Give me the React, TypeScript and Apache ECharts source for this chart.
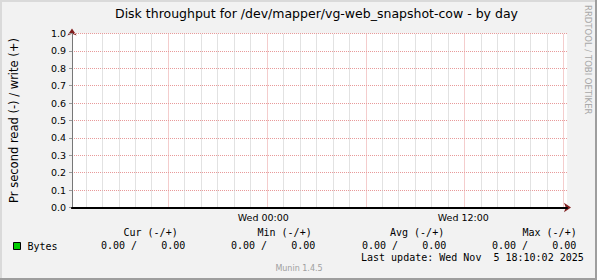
import React, { useEffect, useRef } from 'react';
import * as echarts from 'echarts';

// ---- data ----
const chartTitle = 'Disk throughput for /dev/mapper/vg-web_snapshot-cow - by day';
const yAxisName = 'Pr second read (-) / write (+)';
const sideText = 'RRDTOOL / TOBI OETIKER';
const versionText = 'Munin 1.4.5';
const lastUpdate = 'Last update: Wed Nov  5 18:10:02 2025';

// time in hours relative to Wed 00:00
const xMinHours = -11.84;
const xMaxHours = 18.22;
const gridStartHours = -12; // multiple of the label interval
const majorHours = 6;
const labelStepHours = 12;
const sampleHours = [-11.75, -6, 0, 6, 12, 18.17];
const writeValues = [0, 0, 0, 0, 0, 0];
const readValues = [0, 0, 0, 0, 0, 0];

const labelHours = [0, 12];
const labelTexts = ['Wed 00:00', 'Wed 12:00'];

const yMin = 0;
const yMax = 1.0;
const yStep = 0.1;

const seriesName = 'Bytes';
const statHeaders = ['Cur (-/+)', 'Min (-/+)', 'Avg (-/+)', 'Max (-/+)'];
const statRead = [0, 0, 0, 0];
const statWrite = [0, 0, 0, 0];

// ---- styles ----
const SANS = '"DejaVu Sans", sans-serif';
const MONO = '"DejaVu Sans Mono", monospace';
const minorColor = '#c4c4c4';
const majorColor = '#e89a9a';
const arrowColor = '#801f1f';
const headerX = [123.5, 257.5, 390, 522.5];
const valueX = [101, 231, 362, 492];

export default function App() {
  const ref = useRef<HTMLDivElement>(null);
  useEffect(() => {
    document.body.style.margin = '0';
    const chart = echarts.init(ref.current!, null, { renderer: 'svg' });
    const gridLeft = 66;
    const gridRight = 30;
    const gridTop = 33.5;
    const gridBottom = 72.5;
    const plotWidth = 597 - gridLeft - gridRight;
    const pxPerHour = plotWidth / (xMaxHours - xMinHours);
    const shiftedLeft = gridLeft - (xMinHours - gridStartHours) * pxPerHour;

    // hourly vertical grid lines, every 6th one is a major line
    const hourLines: any[] = [];
    for (let h = Math.ceil(xMinHours); h <= Math.floor(xMaxHours); h++) {
      hourLines.push({
        xAxis: h,
        lineStyle: { color: h % majorHours === 0 ? majorColor : minorColor, type: [1, 1], width: 1 },
      });
    }

    const hiddenX = {
      type: 'value',
      position: 'bottom',
      axisLine: { show: false, onZero: false },
      axisLabel: { show: false },
      axisTick: { show: false },
      splitLine: { show: false },
    };

    const graphics: any[] = [
      { type: 'rect', shape: { x: 0, y: 0, width: 597, height: 2 }, style: { fill: '#dadada' }, silent: true },
      { type: 'rect', shape: { x: 0, y: 0, width: 2, height: 280 }, style: { fill: '#dadada' }, silent: true },
      { type: 'rect', shape: { x: 595, y: 0, width: 2, height: 280 }, style: { fill: '#9e9e9e' }, silent: true },
      { type: 'rect', shape: { x: 0, y: 278, width: 597, height: 2 }, style: { fill: '#9e9e9e' }, silent: true },
      {
        type: 'text', x: 588, y: 5, rotation: -Math.PI / 2,
        style: { text: sideText, font: '8.5px ' + SANS, fill: '#a8a8a8', align: 'left', verticalAlign: 'middle' },
      },
      {
        type: 'text', x: 299, y: 268.5,
        style: { text: versionText, font: '8px ' + SANS, fill: '#a0a0a0', align: 'center', verticalAlign: 'middle' },
      },
      {
        type: 'text', x: 361, y: 257,
        style: { text: lastUpdate, font: '10px ' + MONO, fill: '#000', align: 'left', verticalAlign: 'middle' },
      },
    ];
    statHeaders.forEach((h, i) => {
      graphics.push({
        type: 'text', x: headerX[i], y: 232.5,
        style: { text: h, font: '10px ' + MONO, fill: '#000', align: 'left', verticalAlign: 'middle' },
      });
      graphics.push({
        type: 'text', x: valueX[i], y: 245,
        style: {
          text: statRead[i].toFixed(2) + ' /    ' + statWrite[i].toFixed(2),
          font: '10px ' + MONO, fill: '#000', align: 'left', verticalAlign: 'middle',
        },
      });
    });

    chart.setOption({
      animation: false,
      backgroundColor: '#f2f2f2',
      title: {
        text: chartTitle,
        left: 316.5,
        top: 7,
        textAlign: 'center',
        padding: 0,
        textStyle: { fontFamily: SANS, fontSize: 12.5, fontWeight: 'normal', color: '#000' },
      },
      legend: {
        data: [seriesName],
        left: 13,
        top: 241,
        padding: 0,
        itemWidth: 7,
        itemHeight: 7,
        icon: 'rect',
        selectedMode: false,
        itemStyle: { borderColor: '#000', borderWidth: 1 },
        textStyle: { fontFamily: MONO, fontSize: 10, color: '#000', padding: [0, 0, 0, 2] },
      },
      grid: [
        { left: gridLeft, right: gridRight, top: gridTop, bottom: gridBottom, show: true, backgroundColor: '#ffffff', borderWidth: 0 },
        { left: shiftedLeft, right: gridRight, top: gridTop, bottom: gridBottom, show: true, backgroundColor: 'rgba(0,0,0,0)', borderWidth: 0 },
      ],
      xAxis: [
        // 0: data axis + red arrow (grid 0)
        {
          ...hiddenX,
          gridIndex: 0,
          min: xMinHours,
          max: xMaxHours,
          z: 4,
          axisLine: { show: true, onZero: false, symbol: ['none', 'arrow'], symbolSize: [7, 7], symbolOffset: [0, 4], lineStyle: { color: arrowColor, width: 2 } },
        },
        // 1: time labels (grid 1, aligned on whole hours)
        {
          ...hiddenX,
          gridIndex: 1,
          min: gridStartHours,
          max: xMaxHours,
          interval: labelStepHours,
          axisLabel: {
            show: true,
            margin: 5,
            showMinLabel: false,
            showMaxLabel: false,
            fontFamily: SANS,
            fontSize: 9.5,
            color: '#000',
            formatter: (v: number) => {
              const i = labelHours.indexOf(Math.round(v * 100) / 100);
              return i >= 0 ? labelTexts[i] : '';
            },
          },
        },
        // 2: black zero axis line over the plot (grid 0)
        {
          ...hiddenX,
          gridIndex: 0,
          min: xMinHours,
          max: xMaxHours,
          z: 6,
          axisLine: { show: true, onZero: false, lineStyle: { color: '#000', width: 2 } },
        },
      ],
      yAxis: [
        {
          type: 'value',
          gridIndex: 0,
          min: yMin,
          max: yMax,
          interval: yStep,
          position: 'left',
          z: 4,
          axisLine: { show: true, onZero: false, symbol: ['none', 'arrow'], symbolSize: [7, 7], symbolOffset: [0, 5], lineStyle: { color: arrowColor, width: 1 } },
          axisTick: { show: false },
          axisLabel: { show: false },
          splitLine: { show: false },
        },
        {
          type: 'value',
          gridIndex: 0,
          min: yMin,
          max: yMax,
          interval: yStep,
          position: 'left',
          z: 5,
          name: yAxisName,
          nameLocation: 'middle',
          nameGap: 52,
          nameTextStyle: { fontFamily: SANS, fontSize: 11.5, color: '#000' },
          axisLine: { show: true, onZero: false, lineStyle: { color: '#777', width: 1 } },
          axisTick: { show: true, length: 3, lineStyle: { color: '#999' } },
          axisLabel: {
            margin: 6,
            fontFamily: SANS,
            fontSize: 9.5,
            color: '#000',
            formatter: (v: number) => v.toFixed(1),
          },
          splitLine: { show: true, showMinLine: false, lineStyle: { color: majorColor, type: [1, 1], width: 1 } },
        },
        { type: 'value', gridIndex: 1, min: yMin, max: yMax, show: false },
      ],
      series: [
        {
          name: seriesName,
          type: 'line',
          xAxisIndex: 0,
          yAxisIndex: 1,
          z: 3,
          symbol: 'none',
          color: '#00cc00',
          lineStyle: { width: 1, color: '#00cc00' },
          data: sampleHours.map((h, i) => [h, writeValues[i]]),
          markLine: {
            silent: true,
            symbol: 'none',
            animation: false,
            label: { show: false },
            emphasis: { disabled: true },
            data: hourLines,
          },
        },
        {
          name: 'read',
          type: 'line',
          xAxisIndex: 0,
          yAxisIndex: 1,
          z: 3,
          symbol: 'none',
          color: '#00cc00',
          lineStyle: { width: 1, color: '#00cc00' },
          data: sampleHours.map((h, i) => [h, -readValues[i]]),
        },
      ],
      graphic: graphics,
    });
    return () => chart.dispose();
  }, []);
  return <div ref={ref} style={{ width: 597, height: 280 }} />;
}
